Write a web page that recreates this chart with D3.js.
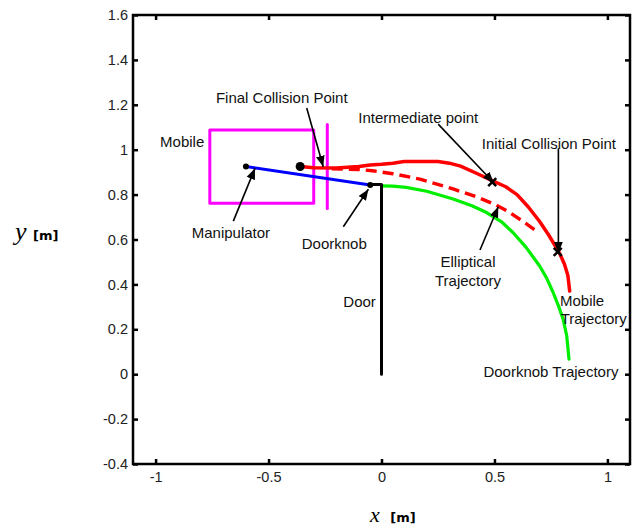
<!DOCTYPE html>
<html><head><meta charset="utf-8">
<script src="https://cdn.jsdelivr.net/npm/d3@7"></script>
<style>body{margin:0;background:#fff}text{font-family:"Liberation Sans",Arial,sans-serif}</style>
</head><body><svg id="c" width="639" height="528"></svg>
<script>
const xTicks=[-1,-0.5,0,0.5,1];
const yTicks=[-0.4,-0.2,0,0.2,0.4,0.6,0.8,1,1.2,1.4,1.6];
const mobileTraj=[[-0.36,0.925],[-0.3,0.92],[-0.2,0.918],[-0.1,0.925],[-0.05,0.932],[0,0.935],[0.05,0.94],[0.1,0.947],[0.25,0.947],[0.3,0.94],[0.35,0.927],[0.42,0.895],[0.49,0.862],[0.55,0.835],[0.6,0.8],[0.65,0.745],[0.7,0.68],[0.74,0.62],[0.77,0.57],[0.79,0.535],[0.81,0.49],[0.825,0.44],[0.833,0.37]];
const ellipticTraj=[[-0.22,0.915],[-0.1,0.912],[-0.04,0.906],[0.05,0.893],[0.17,0.869],[0.32,0.824],[0.42,0.79],[0.5,0.757],[0.56,0.725],[0.62,0.685],[0.69,0.635]];
const knobTraj=[[0,0.839],[0.05,0.838],[0.11,0.832],[0.2,0.815],[0.317,0.78],[0.4,0.75],[0.465,0.72],[0.53,0.68],[0.582,0.631],[0.64,0.565],[0.7,0.482],[0.73,0.43],[0.76,0.364],[0.785,0.3],[0.804,0.245],[0.82,0.17],[0.83,0.067]];
const manipulator=[[-0.6,0.925],[-0.05,0.843]];
const door=[[-0.05,0.845],[0,0.845],[0,0]];
const mobileBox=[[-0.76,0.762],[-0.3,0.762],[-0.3,1.088],[-0.76,1.088],[-0.76,0.762]];
const bumper=[[-0.24,0.738],[-0.24,1.112]];
const dots=[[-0.6,0.925,3],[-0.36,0.925,4.5],[-0.05,0.843,3]];
const crosses=[[0.49,0.856],[0.78,0.545]];
const labels=[["Final Collision Point",-0.733,1.232,"start"],["Mobile",-0.98,1.036,"start"],["Manipulator",-0.84,0.629,"start"],["Doorknob",-0.353,0.583,"start"],["Intermediate point",-0.103,1.144,"start"],["Initial Collision Point",0.444,1.025,"start"],["Elliptical",0.383,0.501,"middle"],["Trajectory",0.383,0.419,"middle"],["Mobile",0.79,0.33,"start"],["Trajectory",0.793,0.249,"start"],["Door",-0.169,0.323,"start"],["Doorknob Trajectory",0.451,0.011,"start"]];
const arrows=[[-0.331,1.186,-0.258,0.924],[-0.656,0.682,-0.56,0.917],[-0.169,0.657,-0.058,0.824],[0.251,1.114,0.497,0.853],[0.783,1.006,0.783,0.54],[0.436,0.553,0.517,0.746]];

const svg=d3.select("#c");
const x=d3.scaleLinear().domain([-1.1,1.1]).range([133,630]);
const y=d3.scaleLinear().domain([-0.4,1.6]).range([464,15]);
const line=d3.line().x(d=>x(d[0])).y(d=>y(d[1]));
const fmt=d=>String(d);

const defs=svg.append("defs");
defs.append("marker").attr("id","ah").attr("viewBox","0 0 10 10").attr("refX",10).attr("refY",5)
 .attr("markerWidth",11).attr("markerHeight",11).attr("markerUnits","userSpaceOnUse").attr("orient","auto")
 .append("path").attr("d","M0,1 L10,5 L0,9 Z").attr("fill","#000");

// axes
const gL=svg.append("g").attr("transform",`translate(${x.range()[0]},0)`).call(d3.axisLeft(y).tickValues(yTicks).tickFormat(fmt).tickSizeInner(-5).tickSizeOuter(0).tickPadding(5));
const gR=svg.append("g").attr("transform",`translate(${x.range()[1]},0)`).call(d3.axisRight(y).tickValues(yTicks).tickFormat("").tickSizeInner(-5).tickSizeOuter(0));
const gB=svg.append("g").attr("transform",`translate(0,${y.range()[0]})`).call(d3.axisBottom(x).tickValues(xTicks).tickFormat(fmt).tickSizeInner(-5).tickSizeOuter(0).tickPadding(8));
const gT=svg.append("g").attr("transform",`translate(0,${y.range()[1]})`).call(d3.axisTop(x).tickValues(xTicks).tickFormat("").tickSizeInner(-5).tickSizeOuter(0));
[gL,gR,gB,gT].forEach(g=>{g.select(".domain").remove();g.selectAll(".tick line").attr("stroke","#000").attr("stroke-width",2.5);g.selectAll("text").attr("font-size",14.5).attr("fill","#222").style("font-family","Liberation Sans, Arial, sans-serif");});
svg.append("rect").attr("x",x.range()[0]).attr("y",y.range()[1]).attr("width",x.range()[1]-x.range()[0]).attr("height",y.range()[0]-y.range()[1]).attr("fill","none").attr("stroke","#000").attr("stroke-width",2.5);

// axis titles
const xt=svg.append("text").attr("x",370).attr("y",522).attr("fill","#000");
xt.append("tspan").text("x").attr("font-family","Liberation Serif, serif").attr("font-style","italic").attr("font-size",22);
xt.append("tspan").text(" [m]").attr("dx",6).attr("font-family","DejaVu Sans, sans-serif").attr("font-weight","bold").attr("font-size",13);
const yt=svg.append("text").attr("x",15).attr("y",240).attr("fill","#000");
yt.append("tspan").text("y").attr("font-family","Liberation Serif, serif").attr("font-style","italic").attr("font-size",26);
yt.append("tspan").text(" [m]").attr("dx",2).attr("font-family","DejaVu Sans, sans-serif").attr("font-weight","bold").attr("font-size",13);

// marks
const draw=(d,c,w,dash)=>{const p=svg.append("path").attr("d",line(d)).attr("fill","none").attr("stroke",c).attr("stroke-width",w).attr("stroke-linejoin","round").attr("stroke-linecap","round");if(dash)p.attr("stroke-dasharray",dash).attr("stroke-linecap","butt");return p;};
draw(mobileBox,"#ff00ff",3);
draw(bumper,"#ff00ff",3);
draw(knobTraj,"#00ee00",3.2);
draw(ellipticTraj,"#ff0000",3.4,"11,6");
draw(mobileTraj,"#ff0000",3.5);
draw(manipulator,"#0000ff",3);
draw(door,"#000",3);
svg.selectAll("circle.dot").data(dots).join("circle").attr("cx",d=>x(d[0])).attr("cy",d=>y(d[1])).attr("r",d=>d[2]).attr("fill","#000");
svg.selectAll("path.cr").data(crosses).join("path").attr("d",d=>{const cx=x(d[0]),cy=y(d[1]);return `M${cx-4},${cy-4}L${cx+4},${cy+4}M${cx-4},${cy+4}L${cx+4},${cy-4}`;}).attr("stroke","#000").attr("stroke-width",2.5);

// arrows
svg.selectAll("line.ar").data(arrows).join("line").attr("x1",d=>x(d[0])).attr("y1",d=>y(d[1])).attr("x2",d=>x(d[2])).attr("y2",d=>y(d[3])).attr("stroke","#000").attr("stroke-width",1.6).attr("marker-end","url(#ah)");

// labels
svg.selectAll("text.lb").data(labels).join("text").attr("x",d=>x(d[1])).attr("y",d=>y(d[2])).attr("dy","0.36em").attr("text-anchor",d=>d[3]).attr("font-size",15).attr("fill","#111").text(d=>d[0]);
</script></body></html>
